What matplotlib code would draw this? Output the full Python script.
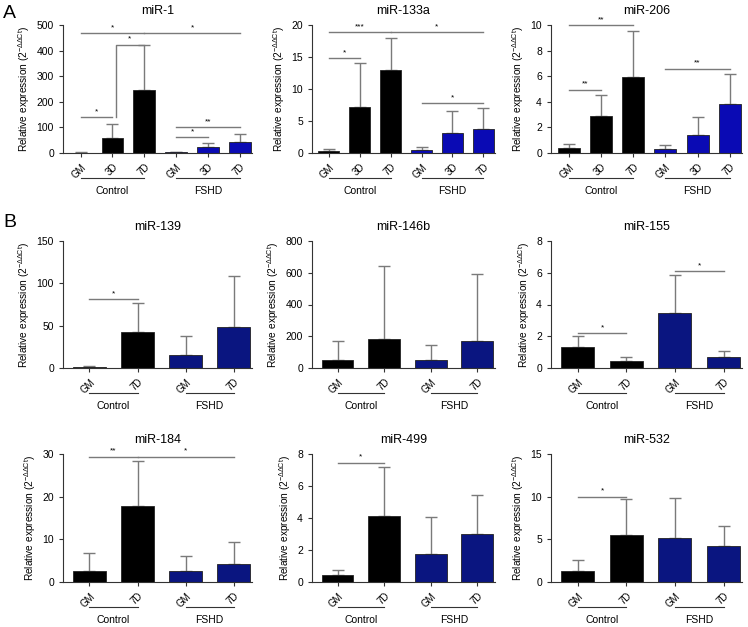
import numpy as np
import matplotlib.pyplot as plt

plt.rcParams['font.family'] = ['Liberation Sans', 'DejaVu Sans']
plt.rcParams['mathtext.fontset'] = 'custom'
plt.rcParams['mathtext.rm'] = 'Liberation Sans'
plt.rcParams['mathtext.it'] = 'Liberation Sans:italic'

# ---- data ----
labels3 = ['GM', '3D', '7D', 'GM', '3D', '7D']
labels2 = ['GM', '7D', 'GM', '7D']
groups = ['Control', 'FSHD']

mir1_mean = [1, 60, 248, 3, 24, 43]
mir1_err = [1, 55, 175, 2, 17, 30]
mir133a_mean = [0.3, 7.2, 12.9, 0.5, 3.1, 3.8]
mir133a_err = [0.3, 6.8, 5.0, 0.45, 3.5, 3.2]
mir206_mean = [0.4, 2.9, 5.9, 0.3, 1.4, 3.85]
mir206_err = [0.3, 1.6, 3.65, 0.3, 1.45, 2.35]

mir139_mean = [1.5, 42, 15, 49]
mir139_err = [1.0, 35, 23, 60]
mir146b_mean = [48, 185, 48, 172]
mir146b_err = [122, 455, 97, 421]
mir155_mean = [1.3, 0.45, 3.45, 0.67]
mir155_err = [0.7, 0.27, 2.4, 0.43]
mir184_mean = [2.5, 17.7, 2.5, 4.3]
mir184_err = [4.4, 10.7, 3.7, 5.1]
mir499_mean = [0.42, 4.15, 1.75, 3.0]
mir499_err = [0.36, 3.05, 2.3, 2.45]
mir532_mean = [1.3, 5.55, 5.1, 4.2]
mir532_err = [1.25, 4.15, 4.75, 2.35]

# significance: (bar i, bar j, y, label)
mir1_sig = [(0, 1, 140, '*'), (0, 2, 467, '*'), (2, 5, 467, '*'), (3, 4, 61, '*'), (3, 5, 102, '**')]
mir133a_sig = [(0, 1, 14.8, '*'), (0, 2, 18.9, '***'), (2, 5, 18.9, '*'), (3, 5, 7.8, '*')]
mir206_sig = [(0, 1, 4.96, '**'), (0, 2, 10.0, '**'), (3, 5, 6.58, '**')]
mir139_sig = [(0, 1, 81, '*')]
mir155_sig = [(0, 1, 2.19, '*'), (2, 3, 6.1, '*')]
mir184_sig = [(0, 1, 29.4, '**'), (1, 3, 29.4, '*')]
mir499_sig = [(0, 1, 7.46, '*')]
mir532_sig = [(0, 1, 10.0, '*')]

gray = '#7a7a7a'
W, H = 748, 627
fig = plt.figure(figsize=(W / 100, H / 100), dpi=100)


def panel(rect, title, mean, err, labels, ymax, ystep, sig, fshd_color, extra=None):
    ax = fig.add_axes(rect)
    n = len(mean)
    x = np.arange(n)
    half = n // 2
    colors = ['black'] * half + [fshd_color] * half
    ax.errorbar(x, mean, yerr=[np.zeros(n), err], fmt='none', ecolor=gray,
                elinewidth=1, capsize=4, capthick=1, zorder=1)
    ax.bar(x, mean, width=0.68, color=colors, edgecolor='#222222', linewidth=0.6, zorder=2)
    ax.set_xlim(-0.55, n - 1 + 0.38)
    ax.set_ylim(0, ymax)
    ax.set_yticks(np.arange(0, ymax + ystep / 2, ystep))
    ax.set_xticks(x)
    ax.set_xticklabels(labels, rotation=45, ha='right', rotation_mode='anchor', fontsize=7)
    ax.tick_params(axis='y', labelsize=7.5, length=3, width=0.8, colors='#333333', labelcolor='black')
    ax.tick_params(axis='x', length=3, width=0.8, colors='#333333', labelcolor='black')
    for s in ['top', 'right']:
        ax.spines[s].set_visible(False)
    for s in ['left', 'bottom']:
        ax.spines[s].set_color('#333333')
        ax.spines[s].set_linewidth(0.8)
    ax.set_title(title, fontsize=9, pad=8)
    ax.set_ylabel(r'Relative expression (2$^{-\Delta\Delta \mathrm{Ct}}$)', fontsize=7.3, labelpad=3)
    # group lines and labels
    tr = ax.get_xaxis_transform()
    hpx = rect[3] * H
    for g, (a, b) in enumerate([(0, half - 1), (half, n - 1)]):
        ax.plot([a, b], [-25 / hpx] * 2, color='#333333', lw=0.8, transform=tr, clip_on=False)
        ax.text((a + b) / 2, -38 / hpx, groups[g], transform=tr, ha='center', va='center', fontsize=7.5)
    # significance lines
    for i, j, y, s in sig:
        ax.plot([i, j], [y, y], color=gray, lw=1, clip_on=False)
        ax.text((i + j) / 2, y + ymax * 0.015, s, ha='center', va='bottom', fontsize=6)
    if extra:
        extra(ax)
    return ax


def mir1_bracket(ax):
    ax.plot([1.12, 1.12, 2], [140, 423, 423], color=gray, lw=1)
    ax.text(1.55, 433, '*', ha='center', va='bottom', fontsize=6)


cols = [(63, 189), (312, 183), (551, 191)]
rows = [(25, 128), (241, 127), (454, 128)]


def rect(r, c):
    x0, w = cols[c]
    y0, h = rows[r]
    return [x0 / W, 1 - (y0 + h) / H, w / W, h / H]


blue1 = '#0a0ab4'
navy = '#0a1580'
panel(rect(0, 0), 'miR-1', mir1_mean, mir1_err, labels3, 500, 100, mir1_sig, blue1, mir1_bracket)
panel(rect(0, 1), 'miR-133a', mir133a_mean, mir133a_err, labels3, 20, 5, mir133a_sig, blue1)
panel(rect(0, 2), 'miR-206', mir206_mean, mir206_err, labels3, 10, 2, mir206_sig, blue1)

panel(rect(1, 0), 'miR-139', mir139_mean, mir139_err, labels2, 150, 50, mir139_sig, navy)
panel(rect(1, 1), 'miR-146b', mir146b_mean, mir146b_err, labels2, 800, 200, [], navy)
panel(rect(1, 2), 'miR-155', mir155_mean, mir155_err, labels2, 8, 2, mir155_sig, navy)

panel(rect(2, 0), 'miR-184', mir184_mean, mir184_err, labels2, 30, 10, mir184_sig, navy)
panel(rect(2, 1), 'miR-499', mir499_mean, mir499_err, labels2, 8, 2, mir499_sig, navy)
panel(rect(2, 2), 'miR-532', mir532_mean, mir532_err, labels2, 15, 5, mir532_sig, navy)

fig.text(3 / W, 1 - 14 / H, 'A', fontsize=14, va='center', ha='left')
fig.text(3 / W, 1 - 222 / H, 'B', fontsize=14, va='center', ha='left')

fig.savefig('out.png', dpi=100)
